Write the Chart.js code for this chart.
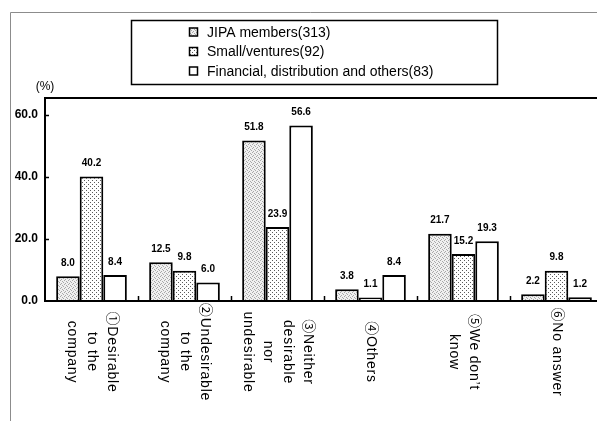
<!DOCTYPE html>
<html>
<head>
<meta charset="utf-8">
<script src="https://cdn.jsdelivr.net/npm/chart.js@4/dist/chart.umd.min.js"></script>
<style>
  html, body { margin: 0; padding: 0; background: #fff; overflow: hidden; width: 597px; height: 421px; }
  #wrap { position: relative; width: 610px; height: 421px; }
</style>
</head>
<body>
<div id="wrap"><canvas id="c" width="610" height="421"></canvas></div>
<script>
// Answer categories (each entry = lines of the rotated axis label)
const categories = [
  ["①Desirable", "to the", "company"],
  ["②Undesirable", "to the", "company"],
  ["③Neither", "desirable", "nor", "undesirable"],
  ["④Others"],
  ["⑤We don’t", "know"],
  ["⑥No answer"]
];
const seriesNames = ["JIPA members(313)", "Small/ventures(92)", "Financial, distribution and others(83)"];
const jipaMembers     = [8.0, 12.5, 51.8, 3.8, 21.7, 2.2];
const smallVentures   = [40.2, 9.8, 23.9, 1.1, 15.2, 9.8];
const financialOthers = [8.4, 6.0, 56.6, 8.4, 19.3, 1.2];
const yTicks = [0, 20, 40, 60];
const unitLabel = "(%)";

// Fill patterns for the bars
function makePattern(bg, dots, color, size) {
  const c = document.createElement('canvas');
  c.width = size; c.height = size;
  const g = c.getContext('2d');
  g.fillStyle = bg; g.fillRect(0, 0, size, size);
  g.fillStyle = color;
  dots.forEach(([dx, dy]) => g.fillRect(dx, dy, 1, 1));
  return g.createPattern(c, 'repeat');
}
const fineStipple = makePattern('#f0f0f0', [[0,0],[2,1],[1,3],[3,2]], '#a8a8a8', 4);
const coarseDots  = makePattern('#ffffff', [[0,0],[2,2]], '#5a5a5a', 4);
const fills = [fineStipple, coarseDots, '#ffffff'];

const FONT = '"Liberation Sans", Arial, "Noto Sans CJK JP", sans-serif';

const decor = {
  id: 'decor',
  beforeDraw(chart) {
    const ctx = chart.ctx;
    ctx.save();
    ctx.fillStyle = '#fff';
    ctx.fillRect(0, 0, chart.width, chart.height);
    // page frame
    ctx.strokeStyle = '#8c8c8c';
    ctx.lineWidth = 1;
    ctx.beginPath();
    ctx.moveTo(10.5, chart.height);
    ctx.lineTo(10.5, 12.5);
    ctx.lineTo(chart.width, 12.5);
    ctx.stroke();
    ctx.restore();
  },
  afterDraw(chart) {
    const ctx = chart.ctx;
    const a = chart.chartArea;
    const x = chart.scales.x, y = chart.scales.y;
    ctx.save();

    // plot frame
    ctx.strokeStyle = '#000';
    ctx.lineWidth = 2;
    ctx.strokeRect(a.left, a.top, a.right - a.left, a.bottom - a.top);

    // inner tick marks on the value axis
    ctx.lineWidth = 1.5;
    yTicks.forEach(v => {
      if (v === 0) return;
      const py = Math.round(y.getPixelForValue(v)) + 0.5;
      ctx.beginPath(); ctx.moveTo(a.left, py); ctx.lineTo(a.left + 4, py); ctx.stroke();
    });
    // category separators on the x axis
    for (let i = 1; i < categories.length; i++) {
      const px = Math.round((x.getPixelForValue(i - 1) + x.getPixelForValue(i)) / 2) + 0.5;
      ctx.beginPath(); ctx.moveTo(px, a.bottom); ctx.lineTo(px, a.bottom - 5); ctx.stroke();
    }

    // value labels above the bars
    ctx.fillStyle = '#000';
    ctx.font = 'bold 10px ' + FONT;
    ctx.textAlign = 'center';
    ctx.textBaseline = 'middle';
    chart.data.datasets.forEach((ds, di) => {
      chart.getDatasetMeta(di).data.forEach((bar, i) => {
        ctx.fillText(ds.data[i].toFixed(1), bar.x, bar.y - 13);
      });
    });

    // rotated category labels (reading top to bottom)
    ctx.font = '14px ' + FONT;
    ctx.letterSpacing = '0.8px';
    const lh = 20;
    categories.forEach((lines, i) => {
      const cx = x.getPixelForValue(i);
      ctx.save();
      ctx.translate(cx, a.bottom + 51);
      ctx.rotate(Math.PI / 2);
      const n = lines.length;
      lines.forEach((t, k) => {
        ctx.fillText(t, 0, -((n - 1) / 2 - k) * lh);
      });
      ctx.restore();
    });
    ctx.letterSpacing = '0px';

    // unit
    ctx.font = '12px ' + FONT;
    ctx.fillText(unitLabel, 45, 87);

    // legend
    const lx = 131, ly = 20, lw = 366, lhgt = 64;
    ctx.lineWidth = 1.5;
    ctx.strokeRect(lx + 0.5, ly + 0.5, lw, lhgt);
    ctx.textAlign = 'left';
    ctx.font = '14px ' + FONT;
    chart.data.datasets.forEach((ds, di) => {
      const ry = 32 + di * 19.5;
      ctx.fillStyle = fills[di];
      ctx.fillRect(189, ry - 4.5, 9, 9);
      ctx.strokeStyle = '#000';
      ctx.lineWidth = 1.5;
      ctx.strokeRect(189.5, ry - 4, 8, 8);
      ctx.fillStyle = '#000';
      ctx.fillText(ds.label, 207, ry + 1);
    });

    ctx.restore();
  }
};

new Chart(document.getElementById('c'), {
  type: 'bar',
  data: {
    labels: categories,
    datasets: [
      { label: seriesNames[0], data: jipaMembers, backgroundColor: fills[0] },
      { label: seriesNames[1], data: smallVentures, backgroundColor: fills[1] },
      { label: seriesNames[2], data: financialOthers, backgroundColor: fills[2] }
    ]
  },
  options: {
    responsive: false,
    animation: false,
    devicePixelRatio: 1,
    layout: { padding: { left: 0, right: 7, top: 98, bottom: 0 } },
    datasets: {
      bar: {
        borderColor: '#000',
        borderWidth: 2,
        categoryPercentage: 0.76,
        barPercentage: 1.0
      }
    },
    plugins: { legend: { display: false }, tooltip: { enabled: false } },
    scales: {
      x: {
        grid: { display: false, drawTicks: false },
        border: { display: false },
        ticks: { display: false },
        afterFit(s) { s.height = 120; }
      },
      y: {
        min: 0,
        max: 65.5,
        grid: { display: false, drawTicks: false },
        border: { display: false },
        afterBuildTicks(s) { s.ticks = yTicks.map(v => ({ value: v })); },
        ticks: {
          color: '#000',
          padding: 7,
          font: { family: FONT, size: 12, weight: 'bold' },
          callback: v => Number(v).toFixed(1)
        },
        afterFit(s) { s.width = 45; }
      }
    }
  },
  plugins: [decor]
});
</script>
</body>
</html>
